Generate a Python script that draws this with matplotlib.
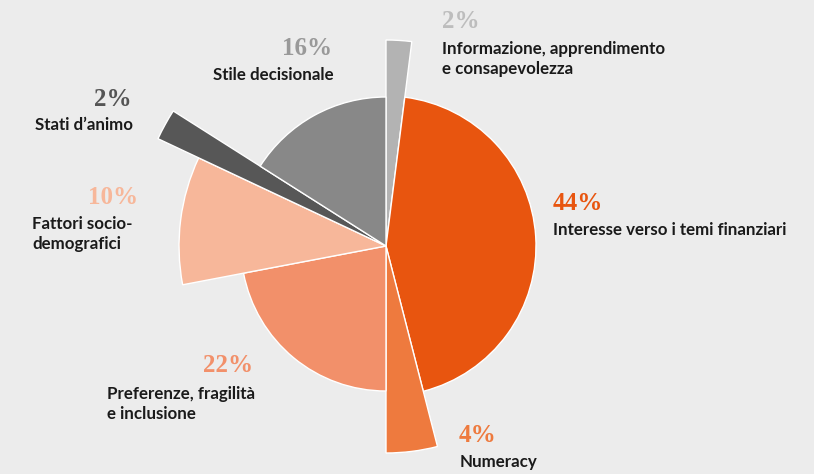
import matplotlib
matplotlib.use("Agg")
import matplotlib.pyplot as plt
from matplotlib.patches import Wedge

# ---- data ----
categories = [
    "Informazione, apprendimento\ne consapevolezza",
    "Interesse verso i temi finanziari",
    "Numeracy",
    "Preferenze, fragilità\ne inclusione",
    "Fattori socio-\ndemografici",
    "Stati d’animo",
    "Stile decisionale",
]
shares = [2, 44, 4, 22, 10, 2, 16]
pct_labels = ["2%", "44%", "4%", "22%", "10%", "2%", "16%"]
radii = [206, 150, 207, 145, 207, 252, 149]
colors = ["#B3B3B3", "#E8550F", "#EE7A3E", "#F2906A", "#F7B79A", "#575757", "#888888"]
pct_colors = ["#BDBDBD", "#E8550F", "#EE7A3E", "#F2906A", "#F7B79A", "#555555", "#999999"]

W, H = 814, 474
BG = "#ECECEC"
fig = plt.figure(figsize=(W / 100, H / 100), dpi=100, facecolor=BG)
ax = fig.add_axes([0, 0, 1, 1])
ax.set_facecolor(BG)
ax.set_xlim(0, W)
ax.set_ylim(0, H)
ax.axis("off")

cx, cy = 386, H - 246
total = sum(shares)
start = 0.0
for s, r, c in zip(shares, radii, colors):
    a0 = start / total * 360
    a1 = (start + s) / total * 360
    ax.add_patch(Wedge((cx, cy), r, 90 - a1, 90 - a0, facecolor=c,
                       edgecolor="white", linewidth=1.0))
    start += s

# label layout: (x, y_pct, y_text, ha_pct, x_text, ha_text)
layout = [
    (442, 21, 59, "left", 442, "left"),
    (553, 203, 230, "left", 553, "left"),
    (459, 436, 462, "left", 460, "left"),
    (253, 365, 404, "right", 107, "left"),
    (138, 197, 234, "right", 32, "left"),
    (132, 99, 125, "right", 133, "right"),
    (332, 48, 75, "right", 334, "right"),
]

for (xp, yp, yt, hap, xt, hat), lab, pl, pc in zip(layout, categories, pct_labels, pct_colors):
    ax.text(xp, H - yp, pl, ha=hap, va="center", color=pc,
            fontsize=18, fontweight="bold", family="Liberation Serif")
    ax.text(xt, H - yt, lab, ha=hat, va="center", color="#1A1A1A",
            fontsize=12.2, fontweight="bold", family="Lato", linespacing=1.35)

fig.savefig("out.png", dpi=100, facecolor=BG)
